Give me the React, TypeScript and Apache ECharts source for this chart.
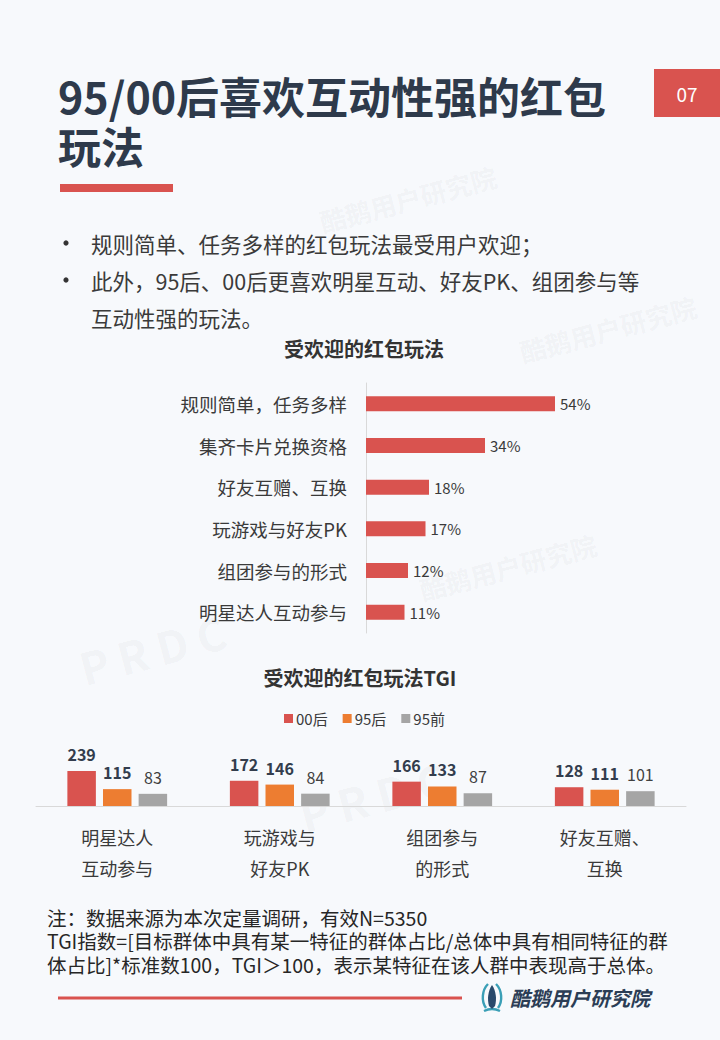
import React, { useEffect, useRef } from 'react';
import * as echarts from 'echarts';

const pageTitle = '95/00后喜欢互动性强的红包\n玩法';
const pageNumber = '07';
const bulletLines = [
  '规则简单、任务多样的红包玩法最受用户欢迎；',
  '此外，95后、00后更喜欢明星互动、好友PK、组团参与等',
  '互动性强的玩法。',
];
const chart1Title = '受欢迎的红包玩法';
const barCategories = ['规则简单，任务多样', '集齐卡片兑换资格', '好友互赠、互换', '玩游戏与好友PK', '组团参与的形式', '明星达人互动参与'];
const barValues = [54, 34, 18, 17, 12, 11];

const chart2Title = '受欢迎的红包玩法TGI';
const tgiSeriesNames = ['00后', '95后', '95前'];
const tgiCategories = ['明星达人\n互动参与', '玩游戏与\n好友PK', '组团参与\n的形式', '好友互赠、\n互换'];
const tgi00 = [239, 172, 166, 128];
const tgi95After = [115, 146, 133, 111];
const tgi95Before = [83, 84, 87, 101];

const footnotes = [
  '注：数据来源为本次定量调研，有效N=5350',
  'TGI指数=[目标群体中具有某一特征的群体占比/总体中具有相同特征的群',
  '体占比]*标准数100，TGI＞100，表示某特征在该人群中表现高于总体。',
];
const brandName = '酷鹅用户研究院';

const FONT = '"Noto Sans CJK SC", "Microsoft YaHei", sans-serif';
const RED = '#d9534f';
const ORANGE = '#ed7d31';
const GRAY = '#a5a5a5';
const DARK = '#2e3a4b';
const TEXT = '#3a3a3a';
const WM = 'rgba(60,70,90,0.05)';

export default function App() {
  const ref = useRef<HTMLDivElement>(null);
  useEffect(() => {
    if (!ref.current) return;
    echarts.graphic.registerShape(
      'logoOuter',
      echarts.graphic.extendPath('M7 2 C 1 8 0 19 5 26 M15 2 C 21 8 22 19 17 26 M3 29 Q 11 25 19 29', {})
    );
    echarts.graphic.registerShape(
      'logoInner',
      echarts.graphic.extendPath('M11 3 C 7 9 6 17 8 24 L 11 27 L 14 24 C 16 17 15 9 11 3 Z', {})
    );
    const chart = echarts.init(ref.current, undefined, { renderer: 'svg' });

    const wmText = (text: string, x: number, y: number, size: number) => ({
      type: 'text',
      x,
      y,
      rotation: 0.26,
      silent: true,
      z: -10,
      style: { text, fontSize: size, fontFamily: FONT, fontWeight: 'bold', fill: WM, textAlign: 'left', textVerticalAlign: 'middle' },
    });

    const graphic: any[] = [
      // watermarks
      wmText('酷鹅用户研究院', 320, 222, 26),
      wmText('酷鹅用户研究院', 520, 352, 26),
      wmText('酷鹅用户研究院', 420, 590, 26),
      wmText('P R D C', 80, 668, 44),
      wmText('P R D C', 300, 815, 44),
      // title
      {
        type: 'text', x: 58, y: 120,
        style: { text: pageTitle, fontSize: 43, lineHeight: 50, fontWeight: 'bold', fontFamily: FONT, fill: DARK, textAlign: 'left', textVerticalAlign: 'middle' },
      },
      { type: 'rect', shape: { x: 60, y: 184, width: 113, height: 8 }, style: { fill: RED } },
      // page number
      { type: 'rect', shape: { x: 654, y: 69, width: 66, height: 48 }, style: { fill: RED } },
      {
        type: 'text', x: 687, y: 93,
        style: { text: pageNumber, fontSize: 19, fontFamily: FONT, fill: '#ffffff', textAlign: 'center', textVerticalAlign: 'middle' },
      },
      // bullets
      { type: 'circle', shape: { cx: 66, cy: 243, r: 2.6 }, style: { fill: '#333333' } },
      { type: 'circle', shape: { cx: 66, cy: 280, r: 2.6 }, style: { fill: '#333333' } },
      {
        type: 'text', x: 91, y: 280,
        style: { text: bulletLines.join('\n'), fontSize: 21.5, lineHeight: 37, fontFamily: FONT, fill: TEXT, textAlign: 'left', textVerticalAlign: 'middle' },
      },
      // chart titles
      {
        type: 'text', x: 364, y: 348,
        style: { text: chart1Title, fontSize: 20, fontWeight: 'bold', fontFamily: FONT, fill: '#333333', textAlign: 'center', textVerticalAlign: 'middle' },
      },
      {
        type: 'text', x: 360, y: 677,
        style: { text: chart2Title, fontSize: 20, fontWeight: 'bold', fontFamily: FONT, fill: '#333333', textAlign: 'center', textVerticalAlign: 'middle' },
      },
      // footnotes
      {
        type: 'text', x: 47, y: 940.5,
        style: { text: footnotes.join('\n'), fontSize: 19.5, lineHeight: 23.5, fontFamily: FONT, fill: '#262626', textAlign: 'left', textVerticalAlign: 'middle' },
      },
      // footer
      { type: 'rect', shape: { x: 58, y: 996.5, width: 404, height: 3 }, style: { fill: RED } },
      {
        type: 'logoOuter', x: 481, y: 982, scaleX: 1, scaleY: 1,
        style: { fill: null, stroke: '#3a9fb6', lineWidth: 2.4 },
      },
      {
        type: 'logoInner', x: 481, y: 982, scaleX: 1, scaleY: 1,
        style: { fill: '#28496b' },
      },
      {
        type: 'text', x: 510, y: 997,
        style: { text: brandName, fontSize: 20, fontWeight: 'bold', fontStyle: 'italic', fontFamily: FONT, fill: '#2b3d55', textAlign: 'left', textVerticalAlign: 'middle' },
      },
    ];

    const tgiLabel = (bold: boolean) => ({
      show: true,
      position: 'top',
      distance: 9,
      fontSize: 16,
      fontWeight: bold ? 'bold' : 'normal',
      fontFamily: FONT,
      color: bold ? '#333d4d' : '#404040',
    });

    const option: any = {
      animation: false,
      backgroundColor: '#f7f9fc',
      textStyle: { fontFamily: FONT },
      grid: [
        { left: 366, top: 383, width: 210, height: 250 },
        { left: 36, top: 762, width: 650, height: 44 },
      ],
      xAxis: [
        { gridIndex: 0, type: 'value', min: 0, max: 60, show: false },
        {
          gridIndex: 1,
          type: 'category',
          data: tgiCategories,
          axisLine: { show: true, lineStyle: { color: '#d9d9d9', width: 1 } },
          axisTick: { show: false },
          axisLabel: { margin: 15, fontSize: 18, lineHeight: 31, color: TEXT, fontFamily: FONT },
        },
      ],
      yAxis: [
        {
          gridIndex: 0,
          type: 'category',
          inverse: true,
          data: barCategories,
          axisLine: { show: true, lineStyle: { color: '#d9d9d9', width: 1 } },
          axisTick: { show: false },
          axisLabel: { margin: 19, fontSize: 18.5, color: TEXT, fontFamily: FONT },
        },
        { gridIndex: 1, type: 'value', min: 0, max: 300, show: false, splitLine: { show: false } },
      ],
      legend: {
        data: tgiSeriesNames,
        left: 279,
        top: 706,
        icon: 'rect',
        itemWidth: 9,
        itemHeight: 9,
        itemGap: 15,
        textStyle: { fontSize: 15, color: TEXT, fontFamily: FONT, padding: [0, 0, 0, -2] },
      },
      series: [
        {
          type: 'bar',
          xAxisIndex: 0,
          yAxisIndex: 0,
          data: barValues,
          barWidth: 15,
          itemStyle: { color: RED },
          label: { show: true, position: 'right', distance: 5, formatter: '{c}%', fontSize: 15, color: TEXT, fontFamily: FONT },
        },
        {
          name: tgiSeriesNames[0],
          type: 'bar',
          xAxisIndex: 1,
          yAxisIndex: 1,
          data: tgi00,
          barWidth: 28.5,
          barGap: '25%',
          itemStyle: { color: RED },
          label: tgiLabel(true),
        },
        {
          name: tgiSeriesNames[1],
          type: 'bar',
          xAxisIndex: 1,
          yAxisIndex: 1,
          data: tgi95After,
          barWidth: 28.5,
          barGap: '25%',
          itemStyle: { color: ORANGE },
          label: tgiLabel(true),
        },
        {
          name: tgiSeriesNames[2],
          type: 'bar',
          xAxisIndex: 1,
          yAxisIndex: 1,
          data: tgi95Before,
          barWidth: 28.5,
          barGap: '25%',
          itemStyle: { color: GRAY },
          label: tgiLabel(false),
        },
      ],
      graphic,
    };
    chart.setOption(option);
    return () => chart.dispose();
  }, []);
  return (
    <div
      ref={ref}
      style={{ position: 'absolute', left: 0, top: 0, width: 720, height: 1040 }}
    />
  );
}
